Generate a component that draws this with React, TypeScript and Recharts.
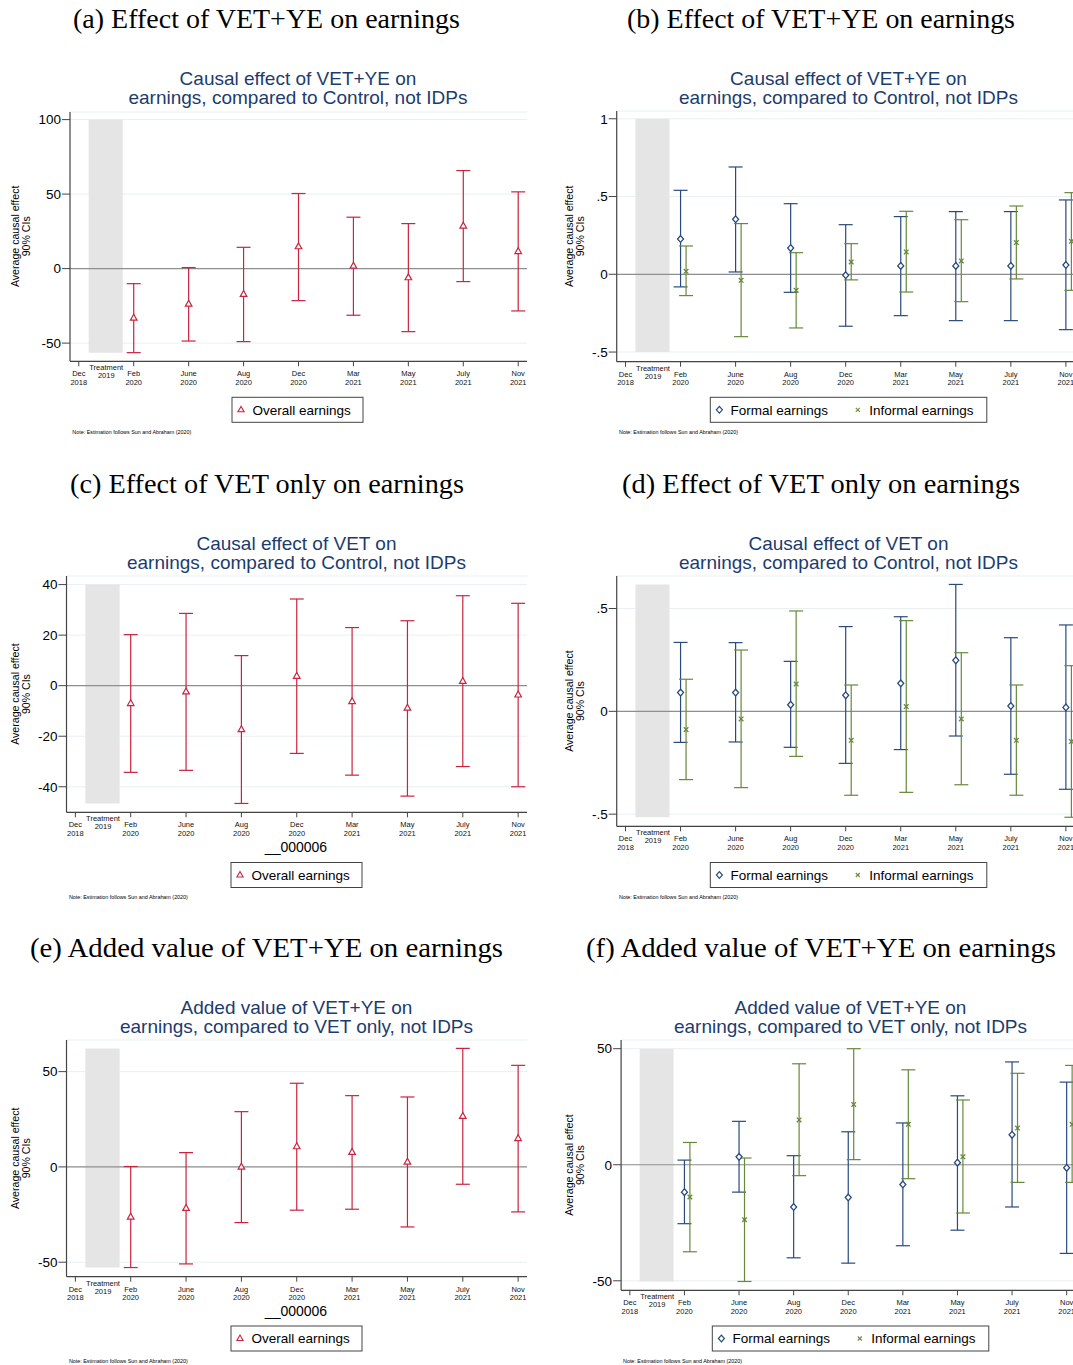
import React from "react";
import {
  ComposedChart,
  Scatter,
  XAxis,
  YAxis,
  CartesianGrid,
  ReferenceArea,
  ReferenceLine,
  ErrorBar,
} from "recharts";

// ---------------- data ----------------
const xTickValues = [0, 0.5, 1, 2, 3, 4, 5, 6, 7, 8];
const xTickMonth = ["Dec", "Treatment", "Feb", "June", "Aug", "Dec", "Mar", "May", "July", "Nov"];
const xTickYear = ["2018", "2019", "2020", "2020", "2020", "2020", "2021", "2021", "2021", "2021"];
const periodIndex = [1, 2, 3, 4, 5, 6, 7, 8]; // Feb 2020 ... Nov 2021

// (a) VET+YE vs Control, overall
const aPoint = [-33.1, -23.7, -17.2, 14.8, 1.8, -6.0, 28.7, 11.6];
const aLow = [-56.4, -48.6, -49.0, -21.5, -31.3, -42.3, -8.7, -28.4];
const aHigh = [-10.1, 0.7, 14.3, 50.4, 34.5, 30.2, 65.8, 51.5];
const aTicks = [-50, 0, 50, 100];

// (b) VET+YE vs Control, formal / informal
const bFormalPoint = [0.227, 0.354, 0.169, -0.006, 0.054, 0.054, 0.054, 0.06];
const bFormalLow = [-0.081, 0.015, -0.116, -0.334, -0.266, -0.298, -0.298, -0.356];
const bFormalHigh = [0.54, 0.69, 0.454, 0.319, 0.371, 0.403, 0.403, 0.478];
const bInformalPoint = [0.019, -0.039, -0.103, 0.079, 0.144, 0.086, 0.204, 0.212];
const bInformalLow = [-0.137, -0.401, -0.345, -0.036, -0.114, -0.176, -0.03, -0.103];
const bInformalHigh = [0.182, 0.326, 0.139, 0.197, 0.405, 0.351, 0.439, 0.525];
const bTicks = [-0.5, 0, 0.5, 1];

// (c) VET only vs Control, overall
const cPoint = [-7.0, -2.4, -17.3, 3.8, -6.2, -8.8, 1.8, -3.6];
const cLow = [-34.3, -33.5, -46.6, -26.8, -35.4, -43.7, -32.0, -40.0];
const cHigh = [20.2, 28.6, 11.9, 34.3, 23.0, 25.7, 35.6, 32.6];
const cTicks = [-40, -20, 0, 20, 40];

// (d) VET only vs Control, formal / informal
const dFormalPoint = [0.091, 0.091, 0.032, 0.078, 0.136, 0.248, 0.026, 0.019];
const dFormalLow = [-0.151, -0.149, -0.175, -0.253, -0.186, -0.12, -0.306, -0.379];
const dFormalHigh = [0.335, 0.334, 0.243, 0.412, 0.46, 0.617, 0.358, 0.42];
const dInformalPoint = [-0.089, -0.037, 0.133, -0.141, 0.023, -0.037, -0.141, -0.147];
const dInformalLow = [-0.332, -0.371, -0.219, -0.408, -0.394, -0.357, -0.408, -0.515];
const dInformalHigh = [0.156, 0.298, 0.488, 0.128, 0.441, 0.285, 0.128, 0.222];
const dTicks = [-0.5, 0, 0.5];

// (e) VET+YE vs VET only, overall
const ePoint = [-26.2, -21.7, 0.0, 10.7, 7.7, 2.6, 26.6, 15.0];
const eLow = [-52.8, -50.9, -29.2, -22.7, -22.2, -31.5, -9.1, -23.6];
const eHigh = [0.2, 7.5, 29.0, 43.9, 37.4, 36.7, 62.2, 53.3];
const eTicks = [-50, 0, 50];

// (f) VET+YE vs VET only, formal / informal
const fFormalPoint = [-11.8, 3.4, -18.2, -14.1, -8.5, 0.9, 12.9, -1.3];
const fFormalLow = [-25.4, -11.8, -40.1, -42.4, -34.9, -28.2, -18.2, -38.2];
const fFormalHigh = [2.0, 18.7, 3.9, 14.2, 18.0, 29.7, 44.3, 35.6];
const fInformalPoint = [-13.9, -23.7, 19.3, 26.0, 17.4, 3.4, 15.8, 17.4];
const fInformalLow = [-37.5, -50.3, -4.7, 2.2, -6.0, -20.8, -7.6, -7.6];
const fInformalHigh = [9.6, 2.9, 43.5, 50.0, 40.9, 27.9, 39.4, 42.8];
const fTicks = [-50, 0, 50];

// ---------------- styles ----------------
const SANS = "'Liberation Sans', Arial, Helvetica, sans-serif";
const SERIF = "'Liberation Serif', 'Times New Roman', serif";
const RED = "#c9233f";
const NAVY = "#284a7e";
const GREEN = "#66893a";
const TITLE = "#1c3c6e";
const AXIS = "#444444";
const GRID = "#e8f0f2";
const ZERO = "#8f8f8f";
const BAND = "#e5e5e5";
const X_DOMAIN: [number, number] = [-0.16, 8.16];
const INFORMAL_DODGE = 0.1;

type Pt = { x: number; y: number; err: [number, number] };
function build(points: number[], lows: number[], highs: number[], dodge: number): Pt[] {
  return points.map((p, i) => ({
    x: periodIndex[i] + dodge,
    y: p,
    err: [p - lows[i], highs[i] - p],
  }));
}

const TriangleShape = (props: any) => {
  const { cx, cy } = props;
  if (cx == null || cy == null) return null;
  return (
    <polygon
      points={`${cx},${cy - 3.7} ${cx - 3.3},${cy + 2.2} ${cx + 3.3},${cy + 2.2}`}
      fill="#fff"
      stroke={RED}
      strokeWidth={1.2}
    />
  );
};
const DiamondShape = (props: any) => {
  const { cx, cy } = props;
  if (cx == null || cy == null) return null;
  return (
    <polygon
      points={`${cx},${cy - 3.4} ${cx + 3},${cy} ${cx},${cy + 3.4} ${cx - 3},${cy}`}
      fill="#fff"
      stroke={NAVY}
      strokeWidth={1.3}
    />
  );
};
const CrossShape = (props: any) => {
  const { cx, cy } = props;
  if (cx == null || cy == null) return null;
  const r = 2.3;
  return (
    <g stroke={GREEN} strokeWidth={1.3}>
      <line x1={cx - r} y1={cy - r} x2={cx + r} y2={cy + r} />
      <line x1={cx - r} y1={cy + r} x2={cx + r} y2={cy - r} />
    </g>
  );
};

const XTick = (props: any) => {
  const { x, y, payload } = props;
  const i = xTickValues.indexOf(payload.value);
  const treat = payload.value === 0.5;
  return (
    <g fontFamily={SANS} fontSize={7.5} fill="#111">
      {!treat && <line x1={x} x2={x} y1={y} y2={y + 5} stroke={AXIS} strokeWidth={1} />}
      <text x={x} y={y + (treat ? 9 : 15)} textAnchor="middle" fill="#111">
        {xTickMonth[i]}
      </text>
      <text x={x} y={y + (treat ? 17 : 23.6)} textAnchor="middle" fill="#111">
        {xTickYear[i]}
      </text>
    </g>
  );
};

const fmt = (v: number) => {
  if (v === 0) return "0";
  if (Math.abs(v) < 1) return (v < 0 ? "-" : "") + String(Math.abs(v)).replace(/^0/, "");
  return String(v);
};

type Series = { data: Pt[]; color: string; shape: any; lows: number[]; highs: number[] };
type PanelProps = {
  left: number;
  plotLeft: number;
  plotRight: number;
  plotTop: number;
  plotBottom: number;
  yDomain: [number, number];
  yTicks: number[];
  series: Series[];
};

function Panel(p: PanelProps) {
  const width = 545;
  const top = p.plotTop - 20;
  const height = p.plotBottom - top + 40;
  const xAxisH = 30;
  const margin = {
    top: p.plotTop - top,
    left: 0,
    right: p.left + width - p.plotRight,
    bottom: height - (p.plotBottom - top) - xAxisH,
  };
  const allLows = p.series.flatMap((s) => s.lows);
  const allHighs = p.series.flatMap((s) => s.highs);
  const bandLo = Math.min(...allLows, ...p.yTicks);
  const bandHi = Math.max(...allHighs, ...p.yTicks);
  return (
    <div style={{ position: "absolute", left: p.left, top, width, height }}>
      <ComposedChart width={width} height={height} margin={margin}>
        <CartesianGrid vertical={false} stroke={GRID} strokeWidth={1} />
        <XAxis
          type="number"
          dataKey="x"
          domain={X_DOMAIN}
          ticks={xTickValues}
          interval={0}
          allowDataOverflow
          height={xAxisH}
          tickLine={false}
          tickSize={0}
          tickMargin={0}
          stroke={AXIS}
          axisLine={{ stroke: AXIS, strokeWidth: 1.2 }}
          tick={(props: any) => <XTick {...props} />}
        />
        <YAxis
          type="number"
          dataKey="y"
          domain={p.yDomain}
          ticks={p.yTicks}
          interval={0}
          allowDataOverflow
          width={p.plotLeft - p.left}
          tickSize={8}
          tickMargin={1}
          stroke={AXIS}
          tickFormatter={fmt}
          tick={{ fontSize: 13.5, fill: "#000", fontFamily: SANS }}
          tickLine={{ stroke: AXIS, strokeWidth: 1 }}
          axisLine={{ stroke: AXIS, strokeWidth: 1.2 }}
        />
        <ReferenceArea
          x1={0.18}
          x2={0.8}
          y1={bandLo}
          y2={bandHi}
          fill={BAND}
          fillOpacity={1}
          stroke="none"
          ifOverflow="visible"
        />
        <ReferenceLine y={0} stroke={ZERO} strokeWidth={1.2} />
        {p.series.map((s, i) => (
          <Scatter key={i} data={s.data} shape={s.shape} isAnimationActive={false}>
            <ErrorBar
              dataKey="err"
              direction="y"
              width={7}
              stroke={s.color}
              strokeWidth={1.2}
              isAnimationActive={false}
            />
          </Scatter>
        ))}
      </ComposedChart>
    </div>
  );
}

const overall = (pt: number[], lo: number[], hi: number[]): Series[] => [
  { data: build(pt, lo, hi, 0), color: RED, shape: TriangleShape, lows: lo, highs: hi },
];
const formalInformal = (
  fp: number[], fl: number[], fh: number[],
  ip: number[], il: number[], ih: number[]
): Series[] => [
  { data: build(fp, fl, fh, 0), color: NAVY, shape: DiamondShape, lows: fl, highs: fh },
  { data: build(ip, il, ih, INFORMAL_DODGE), color: GREEN, shape: CrossShape, lows: il, highs: ih },
];

// ---------------- overlay text ----------------
function Heading({ cx, y, w, text }: { cx: number; y: number; w: number; text: string }) {
  return (
    <text x={cx} y={y} textAnchor="middle" fontFamily={SERIF} fontSize={27} fill="#000" textLength={w} lengthAdjust="spacingAndGlyphs">
      {text}
    </text>
  );
}
function Title({ cx, y, l1, l2 }: { cx: number; y: number; l1: string; l2: string }) {
  return (
    <g fontFamily={SANS} fontSize={19} fill={TITLE} textAnchor="middle">
      <text x={cx} y={y}>{l1}</text>
      <text x={cx} y={y + 19}>{l2}</text>
    </g>
  );
}
function YLabel({ x, cy }: { x: number; cy: number }) {
  return (
    <g fontFamily={SANS} fontSize={10.6} fill="#000">
      <text transform={`translate(${x},${cy}) rotate(-90)`} textAnchor="middle" dominantBaseline="central">
        Average causal effect
      </text>
      <text transform={`translate(${x + 10.6},${cy}) rotate(-90)`} textAnchor="middle" dominantBaseline="central">
        90% CIs
      </text>
    </g>
  );
}
function Note({ x, y }: { x: number; y: number }) {
  return (
    <text x={x} y={y} fontFamily={SANS} fontSize={5.2} fill="#000" textLength={119} lengthAdjust="spacingAndGlyphs">
      Note: Estimation follows Sun and Abraham (2020)
    </text>
  );
}
function LegendOverall({ x, y }: { x: number; y: number }) {
  const cy = y + 12.5;
  return (
    <g>
      <rect x={x} y={y} width={131} height={25} fill="#fff" stroke={AXIS} strokeWidth={1} />
      <polygon points={`${x + 9},${cy - 3.4} ${x + 5.9},${cy + 2} ${x + 12.1},${cy + 2}`} fill="#fff" stroke={RED} strokeWidth={1.1} />
      <text x={x + 20.4} y={cy + 4.8} fontFamily={SANS} fontSize={13.5} fill="#000">Overall earnings</text>
    </g>
  );
}
function LegendFI({ x, y }: { x: number; y: number }) {
  const cy = y + 12.5;
  const dx = x + 9.1;
  const xx = x + 147.5;
  return (
    <g>
      <rect x={x} y={y} width={276.5} height={25} fill="#fff" stroke={AXIS} strokeWidth={1} />
      <polygon points={`${dx},${cy - 3.4} ${dx + 3},${cy} ${dx},${cy + 3.4} ${dx - 3},${cy}`} fill="#fff" stroke={NAVY} strokeWidth={1.2} />
      <text x={x + 20.2} y={cy + 4.8} fontFamily={SANS} fontSize={13.5} fill="#000">Formal earnings</text>
      <g stroke={GREEN} strokeWidth={1.1}>
        <line x1={xx - 2} y1={cy - 2} x2={xx + 2} y2={cy + 2} />
        <line x1={xx - 2} y1={cy + 2} x2={xx + 2} y2={cy - 2} />
      </g>
      <text x={x + 158.9} y={cy + 4.8} fontFamily={SANS} fontSize={13.5} fill="#000">Informal earnings</text>
    </g>
  );
}

export default function App() {
  return (
    <div style={{ position: "absolute", left: 0, top: 0, width: 1073, height: 1365, overflow: "hidden", background: "#fff" }}>
      <Panel left={0} plotLeft={70} plotRight={527} plotTop={111.7} plotBottom={361} yDomain={[-62.2, 105.1]} yTicks={aTicks} series={overall(aPoint, aLow, aHigh)} />
      <Panel left={545} plotLeft={616.7} plotRight={1074.7} plotTop={111} plotBottom={361.7} yDomain={[-0.562, 1.05]} yTicks={bTicks}
        series={formalInformal(bFormalPoint, bFormalLow, bFormalHigh, bInformalPoint, bInformalLow, bInformalHigh)} />
      <Panel left={0} plotLeft={66.5} plotRight={527} plotTop={576} plotBottom={812.3} yDomain={[-50.1, 43.4]} yTicks={cTicks} series={overall(cPoint, cLow, cHigh)} />
      <Panel left={545} plotLeft={616.7} plotRight={1074.7} plotTop={576} plotBottom={826.3} yDomain={[-0.559, 0.658]} yTicks={dTicks}
        series={formalInformal(dFormalPoint, dFormalLow, dFormalHigh, dInformalPoint, dInformalLow, dInformalHigh)} />
      <Panel left={0} plotLeft={66.5} plotRight={527} plotTop={1040} plotBottom={1276.7} yDomain={[-57.6, 66.6]} yTicks={eTicks} series={overall(ePoint, eLow, eHigh)} />
      <Panel left={545} plotLeft={621.1} plotRight={1075.4} plotTop={1040} plotBottom={1290.3} yDomain={[-54.1, 53.75]} yTicks={fTicks}
        series={formalInformal(fFormalPoint, fFormalLow, fFormalHigh, fInformalPoint, fInformalLow, fInformalHigh)} />

      <svg width={1073} height={1365} style={{ position: "absolute", left: 0, top: 0, pointerEvents: "none" }}>
        <Heading cx={266.5} y={28} w={387} text="(a) Effect of VET+YE on earnings" />
        <Heading cx={821} y={28} w={388} text="(b) Effect of VET+YE on earnings" />
        <Heading cx={267} y={493} w={394} text="(c) Effect of VET only on earnings" />
        <Heading cx={821} y={493} w={398} text="(d) Effect of VET only on earnings" />
        <Heading cx={266.5} y={957} w={473} text="(e) Added value of VET+YE on earnings" />
        <Heading cx={821} y={957} w={470} text="(f) Added value of VET+YE on earnings" />

        <Title cx={298} y={85} l1="Causal effect of VET+YE on" l2="earnings, compared to Control, not IDPs" />
        <Title cx={848.5} y={85} l1="Causal effect of VET+YE on" l2="earnings, compared to Control, not IDPs" />
        <Title cx={296.5} y={550} l1="Causal effect of VET on" l2="earnings, compared to Control, not IDPs" />
        <Title cx={848.5} y={550} l1="Causal effect of VET on" l2="earnings, compared to Control, not IDPs" />
        <Title cx={296.5} y={1014} l1="Added value of VET+YE on" l2="earnings, compared to VET only, not IDPs" />
        <Title cx={850.5} y={1014} l1="Added value of VET+YE on" l2="earnings, compared to VET only, not IDPs" />

        <YLabel x={15.3} cy={236.3} />
        <YLabel x={569} cy={236.3} />
        <YLabel x={15.3} cy={694.1} />
        <YLabel x={569} cy={701.1} />
        <YLabel x={15.3} cy={1158.3} />
        <YLabel x={569} cy={1165.1} />

        <text x={296} y={851.7} textAnchor="middle" fontFamily={SANS} fontSize={14} fill="#000">__000006</text>
        <text x={296} y={1315.7} textAnchor="middle" fontFamily={SANS} fontSize={14} fill="#000">__000006</text>

        <LegendOverall x={232} y={397.3} />
        <LegendFI x={710.3} y={397.3} />
        <LegendOverall x={231} y={862.5} />
        <LegendFI x={710.3} y={862.5} />
        <LegendOverall x={231} y={1326} />
        <LegendFI x={712.3} y={1326} />

        <Note x={72.3} y={434} />
        <Note x={619} y={434.2} />
        <Note x={68.9} y={899.2} />
        <Note x={619} y={899.2} />
        <Note x={68.9} y={1363} />
        <Note x={623} y={1363} />
      </svg>
    </div>
  );
}
